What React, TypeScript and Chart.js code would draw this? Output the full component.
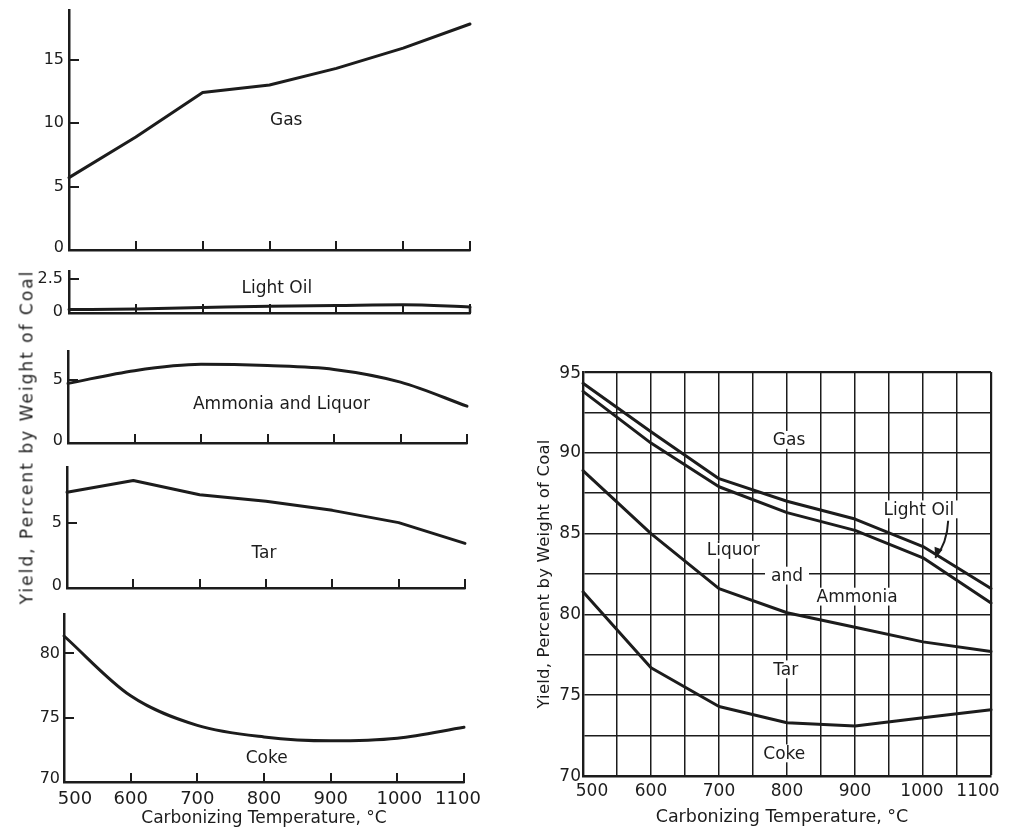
import React, { useEffect, useRef } from "react";
import { Chart, registerables } from "chart.js";

Chart.register(...registerables);

const FONT_FAMILY = "'DejaVu Sans', 'Liberation Sans', Arial, sans-serif";
const INK = "#1c1c1c";

// ---------------- data ----------------
const temperatures = [500, 600, 700, 800, 900, 1000, 1100];
const xTickLabels = ["500", "600", "700", "800", "900", "1000", "1100"];

// individual yields (left panels), percent by weight of coal
const gasYield = [5.7, 8.9, 12.4, 13.0, 14.3, 15.9, 17.8];
const lightOilYield = [0.25, 0.3, 0.4, 0.5, 0.55, 0.6, 0.45];
const ammoniaLiquorYield = [4.7, 5.7, 6.2, 6.1, 5.8, 4.8, 2.9];
const tarYield = [7.4, 8.3, 7.2, 6.7, 6.0, 5.05, 3.45];
const cokeYield = [81.35, 76.7, 74.4, 73.5, 73.2, 73.4, 74.25];

// cumulative boundaries (right chart)
const cumCoke = [81.4, 76.7, 74.3, 73.3, 73.1, 73.6, 74.1];
const cumCokeTar = [88.9, 85.0, 81.6, 80.1, 79.2, 78.3, 77.7];
const cumPlusLiquor = [93.8, 90.6, 87.9, 86.3, 85.2, 83.5, 80.7];
const cumPlusLightOil = [94.3, 91.3, 88.4, 87.0, 85.9, 84.2, 81.6];

// tick values / labels
const gasTicks = [0, 5, 10, 15];
const gasTickLabels = ["0", "5", "10", "15"];
const lightOilTicks = [0, 2.5];
const lightOilTickLabels = ["0", "2.5"];
const ammoniaTicks = [0, 5];
const ammoniaTickLabels = ["0", "5"];
const tarTicks = [0, 5];
const tarTickLabels = ["0", "5"];
const cokeTicks = [70, 75, 80];
const cokeTickLabels = ["70", "75", "80"];
const rightTicks = [70, 75, 80, 85, 90, 95];
const rightTickLabels = ["70", "75", "80", "85", "90", "95"];

const yTitle = "Yield, Percent by Weight of Coal";
const xTitle = "Carbonizing Temperature, \u00B0C";

// ---------------- types ----------------
type Label = { text: string; x: number; y: number; bg?: boolean };
type Series = { values: number[]; smooth?: boolean };
type Spec = {
  area: { left: number; top: number; right: number; bottom: number };
  pad: { l: number; t: number; r: number; b: number };
  yMin: number;
  yMax: number;
  yTicks: number[];
  yLabels: string[];
  yLabelGap: number;
  yLabelShift?: number[];
  tickFont: number;
  xTickFont?: number;
  labelFont: number;
  series: Series[];
  extra?: { x: number; y: number }[][];
  labels: Label[];
  grid?: boolean;
  tickMarks?: boolean;
  xLabelDy?: number;
  xLabelShift?: number[];
  xTitle?: { text: string; dx: number; dy: number; size: number };
  yTitle?: { text: string; dx: number; size: number; spacing: number };
  arrow?: { from: [number, number]; to: [number, number] };
};

function makeDecor(spec: Spec) {
  return {
    id: "decor",
    afterDraw(chart: any) {
      const ctx = chart.ctx as CanvasRenderingContext2D;
      const xs = chart.scales.x;
      const ys = chart.scales.y;
      const ca = chart.chartArea;
      ctx.save();
      ctx.fillStyle = INK;
      ctx.strokeStyle = INK;

      if (spec.tickMarks) {
        ctx.lineWidth = 2;
        ctx.beginPath();
        spec.yTicks.forEach((v) => {
          if (v === spec.yMin) return;
          const y = Math.round(ys.getPixelForValue(v));
          ctx.moveTo(ca.left - 1, y);
          ctx.lineTo(ca.left + 10, y);
        });
        temperatures.forEach((v) => {
          if (v === 500) return;
          const x = Math.round(xs.getPixelForValue(v));
          ctx.moveTo(x, ca.bottom + 1);
          ctx.lineTo(x, ca.bottom - 9);
        });
        ctx.stroke();
      }

      // y tick labels
      ctx.font = `${spec.tickFont}px ${FONT_FAMILY}`;
      ctx.textAlign = "right";
      ctx.textBaseline = "middle";
      spec.yTicks.forEach((v, i) => {
        const off = spec.yLabelShift ? spec.yLabelShift[i] : 0;
        ctx.fillText(spec.yLabels[i], ca.left - spec.yLabelGap, ys.getPixelForValue(v) + off);
      });

      // x tick labels
      if (spec.xLabelDy != null) {
        ctx.font = `${spec.xTickFont || spec.tickFont}px ${FONT_FAMILY}`;
        ctx.textAlign = "center";
        temperatures.forEach((v, i) => {
          const dx = spec.xLabelShift ? spec.xLabelShift[i] : 0;
          ctx.fillText(xTickLabels[i], xs.getPixelForValue(v) + dx, ca.bottom + spec.xLabelDy!);
        });
      }

      // in-plot labels
      ctx.font = `${spec.labelFont}px ${FONT_FAMILY}`;
      ctx.textAlign = "center";
      ctx.textBaseline = "middle";
      spec.labels.forEach((lab) => {
        const px = xs.getPixelForValue(lab.x);
        const py = ys.getPixelForValue(lab.y);
        if (lab.bg) {
          const w = ctx.measureText(lab.text).width;
          const h = spec.labelFont * 1.05;
          ctx.fillStyle = "#ffffff";
          ctx.fillRect(px - w / 2 - 6, py - h / 2, w + 12, h);
          ctx.fillStyle = INK;
        }
        ctx.fillText(lab.text, px, py + 1);
      });

      // arrow
      if (spec.arrow) {
        const x1 = xs.getPixelForValue(spec.arrow.from[0]);
        const y1 = ys.getPixelForValue(spec.arrow.from[1]);
        const x2 = xs.getPixelForValue(spec.arrow.to[0]);
        const y2 = ys.getPixelForValue(spec.arrow.to[1]);
        ctx.lineWidth = 2;
        ctx.beginPath();
        ctx.moveTo(x1, y1);
        ctx.quadraticCurveTo(x1 - 1, (y1 + y2) / 2 + 4, x2, y2);
        ctx.stroke();
        const ang = Math.atan2(y2 - y1, x2 - x1);
        const L = 11;
        ctx.beginPath();
        ctx.moveTo(x2, y2);
        ctx.lineTo(x2 - L * Math.cos(ang - 0.4), y2 - L * Math.sin(ang - 0.4));
        ctx.lineTo(x2 - L * Math.cos(ang + 0.4), y2 - L * Math.sin(ang + 0.4));
        ctx.closePath();
        ctx.fill();
      }

      // x title
      if (spec.xTitle) {
        ctx.font = `${spec.xTitle.size}px ${FONT_FAMILY}`;
        ctx.textAlign = "center";
        ctx.textBaseline = "middle";
        ctx.fillText(spec.xTitle.text, (ca.left + ca.right) / 2 + spec.xTitle.dx, ca.bottom + spec.xTitle.dy);
      }

      // y title
      if (spec.yTitle) {
        ctx.font = `${spec.yTitle.size}px ${FONT_FAMILY}`;
        (ctx as any).letterSpacing = `${spec.yTitle.spacing}px`;
        ctx.textAlign = "center";
        ctx.textBaseline = "middle";
        ctx.translate(ca.left + spec.yTitle.dx, (ca.top + ca.bottom) / 2);
        ctx.rotate(-Math.PI / 2);
        ctx.fillText(spec.yTitle.text, 0, 0);
      }
      ctx.restore();
    },
  };
}

function Panel({ spec }: { spec: Spec }) {
  const ref = useRef<HTMLCanvasElement>(null);
  const { area, pad } = spec;
  const width = pad.l + (area.right - area.left) + pad.r;
  const height = pad.t + (area.bottom - area.top) + pad.b;

  useEffect(() => {
    const canvas = ref.current;
    if (!canvas) return;
    const datasets: any[] = spec.series.map((s) => ({
      data: s.values.map((v, i) => ({ x: temperatures[i], y: v })),
      borderColor: INK,
      borderWidth: 3,
      pointRadius: 0,
      fill: false,
      tension: s.smooth ? 0.4 : 0,
      cubicInterpolationMode: s.smooth ? "monotone" : "default",
      borderJoinStyle: "round",
      borderCapStyle: "round",
      clip: 10,
    }));
    (spec.extra || []).forEach((pts) =>
      datasets.push({
        data: pts,
        borderColor: INK,
        borderWidth: 2.5,
        pointRadius: 0,
        fill: false,
        tension: 0,
        clip: 10,
      })
    );
    const maxY = spec.yMax;
    const chart = new Chart(canvas, {
      type: "line",
      data: { datasets },
      options: {
        responsive: false,
        maintainAspectRatio: false,
        animation: false,
        devicePixelRatio: 1,
        events: [],
        layout: { padding: { left: 0, top: pad.t, right: pad.r, bottom: 0 } },
        plugins: {
          legend: { display: false },
          tooltip: { enabled: false },
          title: { display: false },
        },
        scales: {
          x: {
            type: "linear",
            position: "bottom",
            min: 500,
            max: 1100,
            afterFit: (s: any) => {
              s.height = pad.b;
            },
            ticks: { display: false, stepSize: spec.grid ? 50 : 100 },
            grid: {
              display: !!spec.grid,
              drawTicks: false,
              color: INK,
              lineWidth: (c: any) => (c.tick && c.tick.value === 1100 ? 2.2 : 1.5),
            },
            border: { display: true, color: INK, width: spec.grid ? 2.4 : 2.5 },
          },
          y: {
            type: "linear",
            position: "left",
            min: spec.yMin,
            max: maxY,
            afterFit: (s: any) => {
              s.width = pad.l;
            },
            ticks: { display: false, stepSize: spec.grid ? 2.5 : 100 },
            grid: {
              display: !!spec.grid,
              drawTicks: false,
              color: INK,
              lineWidth: (c: any) => (c.tick && c.tick.value === maxY ? 2.2 : 1.5),
            },
            border: { display: true, color: INK, width: spec.grid ? 2.4 : 2.5 },
          },
        },
      } as any,
      plugins: [makeDecor(spec)],
    });
    return () => chart.destroy();
  }, [spec]);

  return (
    <canvas
      ref={ref}
      width={width}
      height={height}
      style={{
        position: "absolute",
        left: area.left - pad.l,
        top: area.top - pad.t,
        width,
        height,
      }}
    />
  );
}

// ---------------- panel layouts ----------------
const gasSpec: Spec = {
  area: { left: 69, top: 10, right: 470, bottom: 250 },
  pad: { l: 69, t: 10, r: 20, b: 4 },
  yMin: 0,
  yMax: 18.9,
  yTicks: gasTicks,
  yLabels: gasTickLabels,
  yLabelGap: 5,
  yLabelShift: [-2, 0, 0, 0],
  tickFont: 16,
  labelFont: 17,
  series: [{ values: gasYield }],
  labels: [{ text: "Gas", x: 825, y: 10.26 }],
  tickMarks: true,
};

const lightOilSpec: Spec = {
  area: { left: 69, top: 271, right: 470, bottom: 313 },
  pad: { l: 69, t: 8, r: 20, b: 4 },
  yMin: 0,
  yMax: 3.09,
  yTicks: lightOilTicks,
  yLabels: lightOilTickLabels,
  yLabelGap: 6,
  yLabelShift: [-1, 0],
  tickFont: 16,
  labelFont: 17,
  series: [{ values: lightOilYield, smooth: true }],
  extra: [
    [
      { x: temperatures[6], y: 0 },
      { x: temperatures[6], y: lightOilYield[6] },
    ],
  ],
  labels: [{ text: "Light Oil", x: 811, y: 1.9 }],
  tickMarks: true,
};

const ammoniaSpec: Spec = {
  area: { left: 68, top: 351, right: 467, bottom: 443 },
  pad: { l: 68, t: 8, r: 20, b: 4 },
  yMin: 0,
  yMax: 7.25,
  yTicks: ammoniaTicks,
  yLabels: ammoniaTickLabels,
  yLabelGap: 5,
  yLabelShift: [-2, 0],
  tickFont: 16,
  labelFont: 17,
  series: [{ values: ammoniaLiquorYield, smooth: true }],
  labels: [{ text: "Ammonia and Liquor", x: 821, y: 3.14 }],
  tickMarks: true,
};

const tarSpec: Spec = {
  area: { left: 67, top: 467, right: 465, bottom: 588 },
  pad: { l: 67, t: 8, r: 20, b: 4 },
  yMin: 0,
  yMax: 9.35,
  yTicks: tarTicks,
  yLabels: tarTickLabels,
  yLabelGap: 5,
  yLabelShift: [-2, 0],
  tickFont: 16,
  labelFont: 17,
  series: [{ values: tarYield }],
  labels: [{ text: "Tar", x: 797, y: 2.7 }],
  tickMarks: true,
};

const cokeSpec: Spec = {
  area: { left: 64, top: 614, right: 464, bottom: 782 },
  pad: { l: 64, t: 8, r: 30, b: 48 },
  yMin: 70,
  yMax: 83.06,
  yTicks: cokeTicks,
  yLabels: cokeTickLabels,
  yLabelGap: 4,
  yLabelShift: [-3, 0, 0],
  tickFont: 16,
  xTickFont: 18,
  labelFont: 17,
  series: [{ values: cokeYield, smooth: true }],
  labels: [{ text: "Coke", x: 804, y: 71.9 }],
  tickMarks: true,
  xLabelDy: 17,
  xLabelShift: [11, 0, 0, 0, 0, 2, -6],
  xTitle: { text: xTitle, dx: 0, dy: 37, size: 17 },
};

const rightSpec: Spec = {
  area: { left: 583, top: 372, right: 991, bottom: 776 },
  pad: { l: 62, t: 12, r: 18, b: 52 },
  yMin: 70,
  yMax: 95,
  yTicks: rightTicks,
  yLabels: rightTickLabels,
  yLabelGap: 2,
  yLabelShift: [1, 0, 0, 0, 0, 2],
  tickFont: 17,
  labelFont: 17,
  series: [
    { values: cumCoke },
    { values: cumCokeTar },
    { values: cumPlusLiquor },
    { values: cumPlusLightOil },
  ],
  labels: [
    { text: "Gas", x: 803, y: 90.8, bg: true },
    { text: "Light Oil", x: 994, y: 86.5, bg: true },
    { text: "Liquor", x: 721, y: 84.0, bg: true },
    { text: "and", x: 800, y: 82.4, bg: true },
    { text: "Ammonia", x: 903, y: 81.1, bg: true },
    { text: "Tar", x: 798, y: 76.6, bg: true },
    { text: "Coke", x: 796, y: 71.4, bg: true },
  ],
  grid: true,
  xLabelDy: 16,
  xLabelShift: [9, 0, 0, 0, 0, -1, -13],
  xTitle: { text: xTitle, dx: -5, dy: 41, size: 17.5 },
  yTitle: { text: yTitle, dx: -38, size: 16.5, spacing: 0.2 },
  arrow: { from: [1037, 85.8], to: [1018, 83.5] },
};

export default function App() {
  return (
    <div
      style={{
        position: "absolute",
        left: 0,
        top: 0,
        width: 1012,
        height: 833,
        overflow: "hidden",
        background: "#ffffff",
      }}
    >
      <Panel spec={gasSpec} />
      <Panel spec={lightOilSpec} />
      <Panel spec={ammoniaSpec} />
      <Panel spec={tarSpec} />
      <Panel spec={cokeSpec} />
      <Panel spec={rightSpec} />
      <div
        style={{
          position: "absolute",
          left: 27,
          top: 437,
          transform: "translate(-50%, -50%) rotate(-90deg)",
          whiteSpace: "nowrap",
          fontFamily: FONT_FAMILY,
          fontSize: 17,
          letterSpacing: "2px",
          color: INK,
          lineHeight: 1,
        }}
      >
        {yTitle}
      </div>
    </div>
  );
}
